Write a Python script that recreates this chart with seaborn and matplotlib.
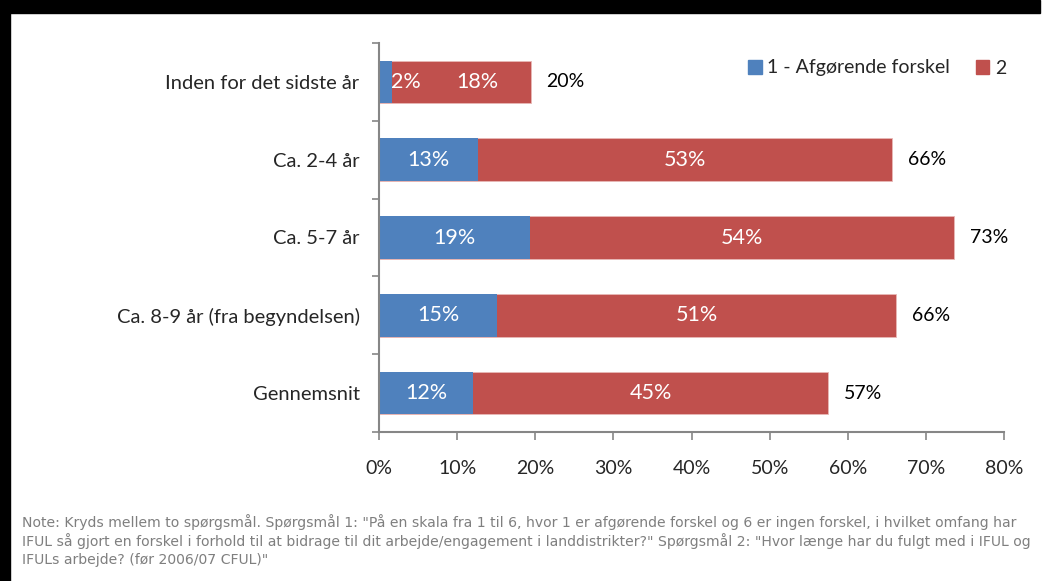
import pandas as pd
import matplotlib.pyplot as plt
import matplotlib.patches as mpatches
import seaborn as sns

# Data
kategorier = ['Inden for det sidste år', 'Ca. 2-4 år', 'Ca. 5-7 år',
              'Ca. 8-9 år (fra begyndelsen)', 'Gennemsnit']
afgoerende = [1.6, 12.7, 19.3, 15.1, 12.0]   # 1 - Afgørende forskel
vaerdi_2 = [17.8, 53.0, 54.3, 51.1, 45.5]    # 2
label_1 = ['2%', '13%', '19%', '15%', '12%']
label_2 = ['18%', '53%', '54%', '51%', '45%']
label_total = ['20%', '66%', '73%', '66%', '57%']

blaa = '#4F81BD'
roed = '#C0504D'

df = pd.DataFrame({'kategori': kategorier, 'a1': afgoerende, 'a2': vaerdi_2})
df['total'] = df['a1'] + df['a2']

sns.set_style('white')
plt.rcParams['font.family'] = ['Lato', 'DejaVu Sans']

fig = plt.figure(figsize=(10.49, 5.81), dpi=100)
ax = fig.add_axes([379/1049, 1 - 432/581, 625/1049, 389/581])

# stablet: total (rød) bagved, blå ovenpå
sns.barplot(data=df, y='kategori', x='total', color=roed, width=0.55,
            saturation=1, orient='h', ax=ax, edgecolor='#e8b8b6', linewidth=0.6)
sns.barplot(data=df, y='kategori', x='a1', color=blaa, width=0.55,
            saturation=1, orient='h', ax=ax, linewidth=0)

ax.set_xlim(0, 80)
ax.set_ylim(4.5, -0.5)
ax.set_xticks(range(0, 81, 10))
ax.set_xticklabels([f'{v}%' for v in range(0, 81, 10)], fontsize=14)
ax.set_yticks(range(len(kategorier)))
ax.set_yticklabels(kategorier, fontsize=14.5)
ax.set_yticks([i - 0.5 for i in range(len(kategorier) + 1)], minor=True)
ax.tick_params(axis='y', which='major', left=True, length=0, pad=14)
ax.tick_params(axis='y', which='minor', left=True, length=5, width=1.2, color='#868686', direction='out')
ax.tick_params(axis='x', bottom=True, length=6, width=1.2, color='#868686', direction='out', pad=14)
ax.set_xlabel('')
ax.set_ylabel('')
for s in ['top', 'right']:
    ax.spines[s].set_visible(False)
for s in ['left', 'bottom']:
    ax.spines[s].set_color('#868686')
    ax.spines[s].set_linewidth(1.5)

# datalabels
for i, row in df.iterrows():
    a1, tot = row['a1'], row['total']
    x1 = a1 / 2 if a1 > 5 else a1 + 1.8
    ax.text(x1, i, label_1[i], color='white', ha='center', va='center', fontsize=15.5)
    x2 = a1 + row['a2'] / 2 if a1 > 5 else a1 + 11
    ax.text(x2, i, label_2[i], color='white', ha='center', va='center', fontsize=15.5)
    ax.text(tot + 2, i, label_total[i], color='black', ha='left', va='center', fontsize=14)

# legende
handles = [mpatches.Patch(color=blaa, label='1 - Afgørende forskel'),
           mpatches.Patch(color=roed, label='2')]
fig.legend(handles=handles, loc='center left', bbox_to_anchor=(748/1049, 1 - 68/581),
           ncol=2, frameon=False, fontsize=14, handlelength=0.7, handleheight=0.7,
           handletextpad=0.3, columnspacing=1.3, borderpad=0, borderaxespad=0)

# note
note = ['Note: Kryds mellem to spørgsmål. Spørgsmål 1: "På en skala fra 1 til 6, hvor 1 er afgørende forskel og 6 er ingen forskel, i hvilket omfang har',
        'IFUL så gjort en forskel i forhold til at bidrage til dit arbejde/engagement i landdistrikter?" Spørgsmål 2: "Hvor længe har du fulgt med i IFUL og',
        'IFULs arbejde? (før 2006/07 CFUL)"']
for k, linje in enumerate(note):
    fig.text(22/1049, 1 - (522 + k * 19)/581, linje, color='#7f7f7f', fontsize=10.05,
             ha='left', va='center', family=['DejaVu Sans'])

# ramme
fig.patches.append(mpatches.Rectangle((0, 1 - 13/581), 1040/1049, 13/581,
                                      transform=fig.transFigure, color='black'))
fig.patches.append(mpatches.Rectangle((0, 0), 10/1049, 1,
                                      transform=fig.transFigure, color='black'))

fig.savefig('out.png', dpi=100)
